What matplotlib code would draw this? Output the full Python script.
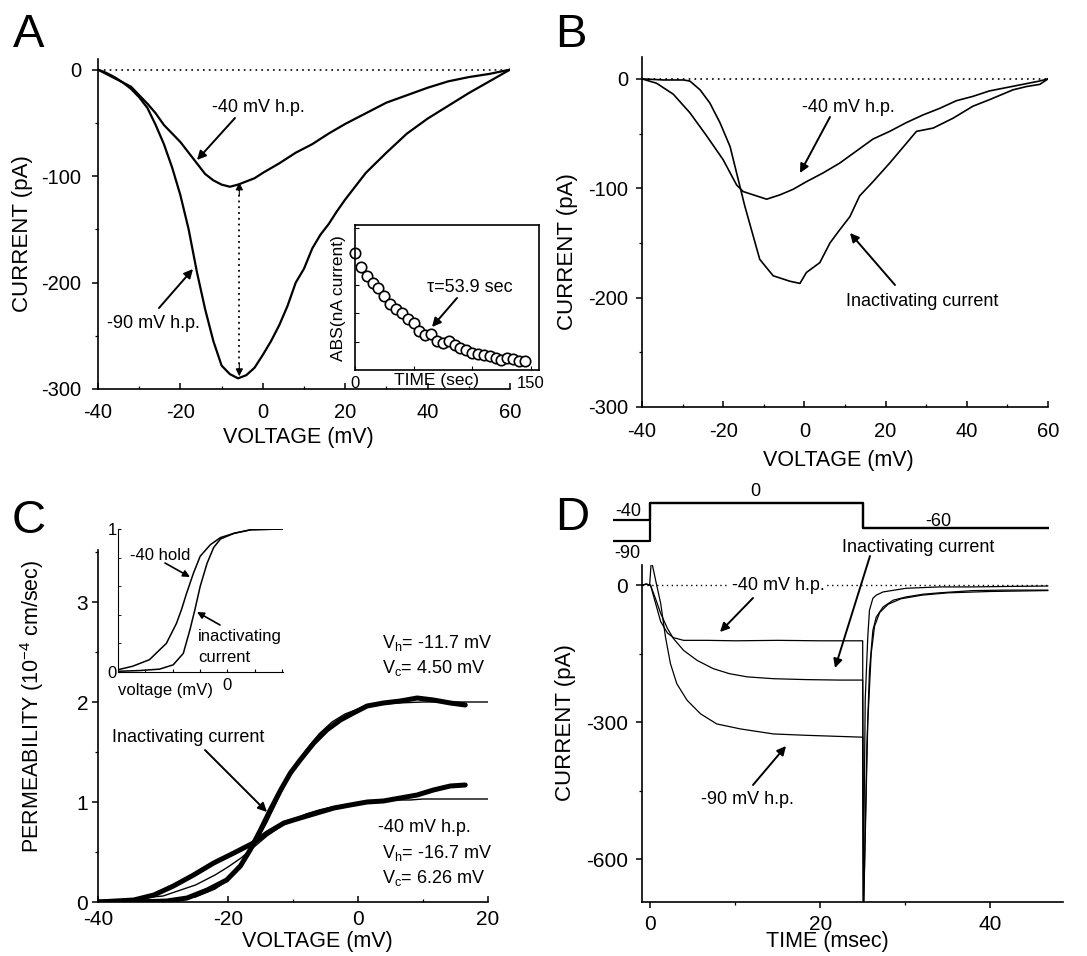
import matplotlib
matplotlib.use('Agg')
import matplotlib.pyplot as plt
from matplotlib.patches import FancyArrowPatch
from matplotlib.ticker import MultipleLocator, FixedLocator

plt.rcParams['font.family'] = ['Liberation Sans', 'DejaVu Sans']
plt.rcParams['axes.unicode_minus'] = False
plt.rcParams['mathtext.fontset'] = 'custom'
plt.rcParams['mathtext.rm'] = 'Liberation Sans'
plt.rcParams['mathtext.it'] = 'Liberation Sans:italic'

W, H = 1087, 956

# ---- panel A: I-V ramps (mV, pA)
a_v90 = [-40, -38, -36, -34, -32, -30, -28, -26, -24, -22, -20, -18, -16, -14, -12, -10, -8, -6, -4, -2,
         0, 2, 4, 6, 8, 10, 12, 14, 16, 18, 20, 25, 30, 35, 40, 45, 50, 55, 60]
a_i90 = [0, -3, -7, -12, -18, -26, -36, -52, -70, -92, -118, -150, -190, -225, -255, -278, -286, -290, -287, -280,
         -268, -255, -240, -222, -200, -187, -168, -155, -145, -133, -122, -97, -78, -60, -46, -34, -22, -11, 0]
a_v40 = [-40, -36, -32, -30, -28, -26, -24, -22, -20, -18, -16, -14, -12, -10, -8, -6, -4, -2,
         0, 4, 8, 12, 16, 20, 25, 30, 35, 40, 45, 50, 55, 60]
a_i40 = [0, -8, -16, -24, -32, -41, -52, -60, -68, -78, -88, -98, -104, -108, -110, -108, -105, -102,
         -97, -88, -78, -70, -60, -51, -41, -31, -24, -17, -11, -7, -4, 0]
# inset: run-down of current (sec, arbitrary units)
ins_t = [0, 5, 10, 15, 20, 25, 30, 35, 40, 45, 50, 55, 60, 65, 70, 75, 80, 85, 90, 95,
         100, 105, 110, 115, 120, 125, 130, 135, 140, 145]
ins_abs = [4.11, 3.63, 3.30, 3.06, 2.89, 2.61, 2.33, 2.14, 2.00, 1.81, 1.67, 1.36, 1.22, 1.28, 1.02,
           0.94, 1.02, 0.87, 0.78, 0.69, 0.61, 0.58, 0.53, 0.50, 0.42, 0.36, 0.42, 0.39, 0.33, 0.31]

# ---- panel B
b_v40 = [-40, -36.4, -32.3, -28.2, -24.1, -20, -16.7, -15.1, -11.8, -9.3, -6, -2.8, 0.5, 4.6, 8.7, 12.8,
         16.9, 21, 25.1, 29.2, 33.3, 37.4, 41.5, 45.6, 49.7, 53.8, 57.9, 60]
b_i40 = [0, -4, -14, -31, -52, -74, -97, -103, -107, -110, -106, -101, -94, -86, -77, -66,
         -55, -48, -40, -33, -27, -20, -16, -11, -8, -5, -2, 0]
b_vin = [-40, -34.7, -29.8, -28.2, -25.7, -23.3, -20.8, -18.3, -15.9, -14.7, -11, -7.7, -3.6, -1.1, 0.5,
         3.8, 6.3, 8.7, 11.2, 13.6, 16.9, 21, 25.1, 27.6, 31.7, 36.6, 41.5, 45.6, 51.4, 54.7, 58, 60]
b_iin = [0, -1, -1, -2, -10, -22, -40, -62, -98, -116, -165, -180, -185, -187, -177,
         -168, -150, -138, -126, -107, -94, -77, -59, -48, -45, -36, -25, -19, -10, -7, -5, 0]

# ---- panel C: permeability (10^-4 cm/sec)
c_vin = [-40, -34.5, -29.4, -26.3, -23.2, -20.2, -18.1, -16.6, -15, -13.5, -11.9, -10.4, -8.9, -6.8,
         -4.8, -2.7, -0.7, 1.4, 3.9, 6.5, 9.1, 11.6, 14.2, 16.5]
c_pin = [0, 0, 0.01, 0.04, 0.12, 0.22, 0.36, 0.52, 0.72, 0.92, 1.12, 1.29, 1.42, 1.59,
         1.72, 1.82, 1.89, 1.96, 1.99, 2.01, 2.04, 2.02, 1.99, 1.97]
c_v40 = [-40, -34.5, -31.4, -28.4, -25.3, -22.2, -19.1, -16.1, -14, -11.4, -8.9, -6.3, -3.7, -1.2,
         1.4, 3.9, 6.5, 9.1, 11.6, 14.2, 16.5]
c_p40 = [0, 0.02, 0.07, 0.16, 0.27, 0.39, 0.49, 0.59, 0.69, 0.79, 0.84, 0.89, 0.94, 0.97,
         1.0, 1.01, 1.04, 1.07, 1.12, 1.16, 1.17]
fit_v = [-40, -30, -25, -22, -20, -18, -16, -14, -12, -10, -8, -6, -4, -2, 0, 2, 4, 6, 8, 10,
         12, 14, 16, 18, 20]
fit_in = [0, 0.01, 0.05, 0.13, 0.22, 0.36, 0.56, 0.80, 1.07, 1.33, 1.52, 1.68, 1.80, 1.88, 1.93, 1.96,
          1.98, 1.99, 1.995, 2.0, 2.0, 2.0, 2.0, 2.0, 2.0]
fit_40 = [0, 0.06, 0.17, 0.27, 0.35, 0.44, 0.55, 0.66, 0.75, 0.82, 0.88, 0.92, 0.95, 0.97, 0.99, 1.0,
          1.01, 1.02, 1.02, 1.03, 1.03, 1.03, 1.03, 1.03, 1.03]
# inset: normalised curves
ci_v40 = [-40, -34.7, -28.5, -22.3, -18.6, -16.7, -14.9, -12.4, -9.9, -6.2, -2.5, 2.5, 8.7, 20.4]
ci_p40 = [0.016, 0.04, 0.086, 0.2, 0.34, 0.44, 0.55, 0.69, 0.81, 0.89, 0.94, 0.97, 0.995, 1.0]
ci_vin = [-40, -32.2, -24.8, -19.8, -16.1, -13.6, -11.8, -9.9, -7.4, -5, -2.5, 2.5, 8.7, 20.4]
ci_pin = [0.005, 0.01, 0.02, 0.05, 0.13, 0.3, 0.44, 0.6, 0.76, 0.87, 0.93, 0.97, 0.995, 1.0]

# ---- panel D: currents (msec, pA)
d_t40 = [-1, -0.5, 0, 0.6, 1.2, 2, 2.7, 3.9, 6.7, 10, 15, 20, 24.9,
         25.0, 25.05, 25.3, 25.6, 25.8, 26.2, 26.6, 27.4, 30.1, 34, 38, 42, 46.8]
d_i40 = [0, 2, 0, -40, -80, -105, -115, -121, -121, -122, -121, -122, -122,
         -122, -720, -250, -113, -55, -29, -22, -15, -7, -4, -4, -3, -2]
d_tin = [-1, -0.5, 0, 0.6, 1.2, 2, 2.7, 3.9, 5.5, 7.4, 9.3, 11.4, 14.5, 18.4, 22.3, 24.9,
         25.0, 25.1, 25.5, 25.8, 26.2, 26.6, 27.4, 28.6, 30.1, 32.1, 34, 38, 42, 46.8]
d_iin = [0, 2, 0, -30, -62, -95, -117, -143, -165, -183, -194, -201, -205, -207, -208, -208,
         -208, -720, -350, -187, -99, -70, -48, -33, -26, -20, -17, -12, -11, -11]
d_t90 = [-1, -0.5, -0.1, 0.1, 0.6, 1.2, 1.76, 2.35, 3.1, 4.3, 5.9, 7.8, 10.6, 14.5, 18.4, 24.9,
         25.0, 25.1, 25.6, 26.0, 26.4, 27.0, 28.0, 29.5, 32, 35, 40, 46.8]
d_i90 = [0, 2, 0, 55, 11, -40, -113, -172, -216, -252, -282, -304, -315, -326, -329, -333,
         -333, -720, -300, -150, -90, -60, -42, -30, -22, -17, -14, -12]
prot_t = [-4.35, 0, 25, 46.9]
prot_v40 = [-40, 0, -60, -60]
prot_v90 = [-90, 0, -60, -60]

fig = plt.figure(figsize=(W / 100, H / 100), dpi=100)


def box(l, t, r, b):
    return [l / W, 1 - b / H, (r - l) / W, (b - t) / H]


def fp(x, y):
    return (x / W, 1 - y / H)


def txt(x, y, s, size=13, ha='center', va='center', **kw):
    return fig.text(x / W, 1 - y / H, s, fontsize=size, ha=ha, va=va, **kw)


def arrow(tail, tip, lw=1.4, ms=13):
    fig.add_artist(FancyArrowPatch(fp(*tail), fp(*tip), transform=fig.transFigure,
                                   arrowstyle='-|>', mutation_scale=ms, lw=lw, color='k',
                                   shrinkA=0, shrinkB=0))


def style(ax, xdir='in', ydir='out', xpad=10, ypad=6, size=14.5):
    for s in ('top', 'right'):
        ax.spines[s].set_visible(False)
    for s in ('left', 'bottom'):
        ax.spines[s].set_linewidth(1.2)
    ax.tick_params(axis='x', which='both', direction=xdir, pad=xpad, labelsize=size)
    ax.tick_params(axis='y', which='both', direction=ydir, pad=ypad, labelsize=size)
    ax.tick_params(which='major', length=4, width=1.1)
    ax.tick_params(which='minor', length=2.5, width=0.9)


# ---------------- A
axA = fig.add_axes(box(98, 59, 510, 389))
axA.plot(a_v90, a_i90, color='k', lw=1.6)
axA.plot(a_v40, a_i40, color='k', lw=1.6)
axA.axhline(0, color='k', lw=1.2, ls=(0, (1, 2.5)))
axA.plot([-5.7, -5.7], [-112, -282], color='k', lw=1.3, ls=(0, (1, 2.2)))
axA.annotate('', xy=(-5.7, -106), xytext=(-5.7, -118),
             arrowprops=dict(arrowstyle='-|>', color='k', lw=0.8, mutation_scale=11, shrinkA=0, shrinkB=0))
axA.annotate('', xy=(-5.7, -288), xytext=(-5.7, -276),
             arrowprops=dict(arrowstyle='-|>', color='k', lw=0.8, mutation_scale=11, shrinkA=0, shrinkB=0))
axA.set_xlim(-40, 60)
axA.set_ylim(-300, 10)
axA.xaxis.set_major_locator(MultipleLocator(20))
axA.xaxis.set_minor_locator(MultipleLocator(10))
axA.yaxis.set_major_locator(FixedLocator([0, -100, -200, -300]))
axA.yaxis.set_minor_locator(FixedLocator([-50, -150, -250]))
style(axA, xpad=10, ypad=8)
txt(23, 234, 'CURRENT (pA)', size=16, rotation=90)
txt(298, 438, 'VOLTAGE (mV)', size=15.5)
txt(212, 107, '-40 mV h.p.', ha='left')
txt(107, 323, '-90 mV h.p.', ha='left')
arrow((235, 118), (197, 160))
arrow((159, 308), (193, 269))

axI = fig.add_axes(box(355, 225, 539, 370))
axI.plot(ins_t, ins_abs, 'o', mfc='white', mec='k', ms=7.5, mew=1.2, clip_on=False)
axI.set_xlim(0, 157)
axI.set_ylim(0, 5.1)
axI.set_xticks([0, 50, 100, 150])
axI.set_xticklabels(['0', '', '', '150'])
axI.set_yticks([1, 2, 3, 4, 5])
axI.set_yticklabels([])
for s in axI.spines.values():
    s.set_linewidth(1.2)
axI.tick_params(direction='in', length=3, labelsize=12, pad=4)
txt(338, 298, 'ABS(nA current)', size=12.5, rotation=90)
txt(436, 381, 'TIME (sec)', size=12.5)
txt(427, 287, '\u03c4=53.9 sec', ha='left')
arrow((457, 298), (432, 327))

# ---------------- B
axB = fig.add_axes(box(642, 57, 1048, 407))
axB.plot(b_v40, b_i40, color='k', lw=1.2)
axB.plot(b_vin, b_iin, color='k', lw=1.2)
axB.axhline(0, color='k', lw=1.2, ls=(0, (1, 2.5)))
axB.set_xlim(-40, 60)
axB.set_ylim(-300, 20)
axB.xaxis.set_major_locator(MultipleLocator(20))
axB.xaxis.set_minor_locator(MultipleLocator(10))
axB.yaxis.set_major_locator(FixedLocator([0, -100, -200, -300]))
axB.yaxis.set_minor_locator(FixedLocator([-50, -150, -250]))
style(axB, xpad=11, ypad=6)
txt(567, 252, 'CURRENT (pA)', size=16, rotation=90)
txt(838, 461, 'VOLTAGE (mV)', size=15.5)
txt(848, 107, '-40 mV h.p.')
txt(922, 302, 'Inactivating current')
arrow((830, 117), (800, 173))
arrow((895, 285), (850, 233))

# ---------------- C
axC = fig.add_axes(box(98, 550, 488, 902))
axC.plot(fit_v, fit_in, color='k', lw=1.0)
axC.plot(fit_v, fit_40, color='k', lw=1.0)
axC.plot(c_vin, c_pin, color='k', lw=3.6, solid_capstyle='round')
axC.plot(c_v40, c_p40, color='k', lw=3.6, solid_capstyle='round')
axC.set_xlim(-40, 20)
axC.set_ylim(0, 3.52)
axC.xaxis.set_major_locator(MultipleLocator(20))
axC.xaxis.set_minor_locator(MultipleLocator(10))
axC.yaxis.set_major_locator(MultipleLocator(1))
axC.yaxis.set_minor_locator(MultipleLocator(0.5))
style(axC, xpad=6, ypad=3, size=15)
txt(32, 706, 'PERMEABILITY (10$^{\\mathregular{-4}}$ cm/sec)', size=15.5, rotation=90)
txt(317, 941, 'VOLTAGE (mV)', size=15.5)
txt(382, 643, 'V$_{\\mathregular{h}}$= -11.7 mV', ha='left')
txt(382, 668, 'V$_{\\mathregular{c}}$= 4.50 mV', ha='left')
txt(378, 827, '-40 mV h.p.', ha='left')
txt(382, 853, 'V$_{\\mathregular{h}}$= -16.7 mV', ha='left')
txt(382, 878, 'V$_{\\mathregular{c}}$= 6.26 mV', ha='left')
txt(112, 737, 'Inactivating current', ha='left')
arrow((205, 750), (267, 812))

axCi = fig.add_axes(box(118, 529, 283, 672))
axCi.plot(ci_v40, ci_p40, color='k', lw=1.1)
axCi.plot(ci_vin, ci_pin, color='k', lw=1.1)
axCi.set_xlim(-40, 20.4)
axCi.set_ylim(0, 1.0)
axCi.set_yticks([0, 1])
axCi.yaxis.set_minor_locator(MultipleLocator(0.2))
axCi.set_xticks([-30, -20, -10, 0, 10, 20])
axCi.set_xticklabels([])
for s in ('top', 'right'):
    axCi.spines[s].set_visible(False)
axCi.patch.set_alpha(0)
axCi.tick_params(which='both', direction='in', length=2.5, labelsize=12, pad=1)
txt(227, 686, '0', size=12)
txt(166, 690, 'voltage (mV)', size=12)
txt(130, 555, '-40 hold', size=12, ha='left')
txt(198, 636, 'inactivating', size=12, ha='left')
txt(198, 658, 'current', size=12, ha='left')
arrow((165, 563), (190, 577), lw=1.2, ms=10)
arrow((220, 625), (197, 612), lw=1.2, ms=10)

# ---------------- D
axD = fig.add_axes(box(642, 565, 1063, 902))
axD.plot(d_t90, d_i90, color='k', lw=0.9)
axD.plot(d_tin, d_iin, color='k', lw=0.9)
axD.plot(d_t40, d_i40, color='k', lw=0.9)
axD.plot([-1, 47], [0, 0], color='k', lw=1.0, ls=(0, (1, 2.5)))
axD.set_xlim(-1, 48.6)
axD.set_ylim(-694, 44)
axD.xaxis.set_major_locator(MultipleLocator(20))
axD.xaxis.set_minor_locator(MultipleLocator(10))
axD.yaxis.set_major_locator(FixedLocator([0, -300, -600]))
axD.yaxis.set_minor_locator(FixedLocator([-150, -450]))
style(axD, xdir='out', xpad=5, ypad=6, size=15)
txt(566, 723, 'CURRENT (pA)', size=16, rotation=90)
txt(827, 942, 'TIME (msec)', size=15.5)
txt(778, 585, '-40 mV h.p.', bbox=dict(facecolor='white', edgecolor='none', pad=1))
txt(747, 800, '-90 mV h.p.')
txt(918, 547, 'Inactivating current')
arrow((753, 598), (720, 632))
arrow((753, 785), (786, 746))
arrow((870, 556), (835, 668))

axP = fig.add_axes(box(613, 498, 1049, 546))
axP.step(prot_t, prot_v40, where='post', color='k', lw=1.6)
axP.step(prot_t, prot_v90, where='post', color='k', lw=1.6)
axP.set_xlim(-4.35, 46.9)
axP.set_ylim(-101.8, 11.8)
axP.axis('off')
txt(628, 512, '-40')
txt(627, 553, '-90')
txt(755, 492, '0')
txt(938, 521, '-60')

# panel letters
txt(13, 47, 'A', size=34, ha='left', va='baseline')
txt(555, 47, 'B', size=34, ha='left', va='baseline')
txt(12, 533, 'C', size=34, ha='left', va='baseline')
txt(555, 530, 'D', size=34, ha='left', va='baseline')

fig.savefig('out.png', dpi=100)
